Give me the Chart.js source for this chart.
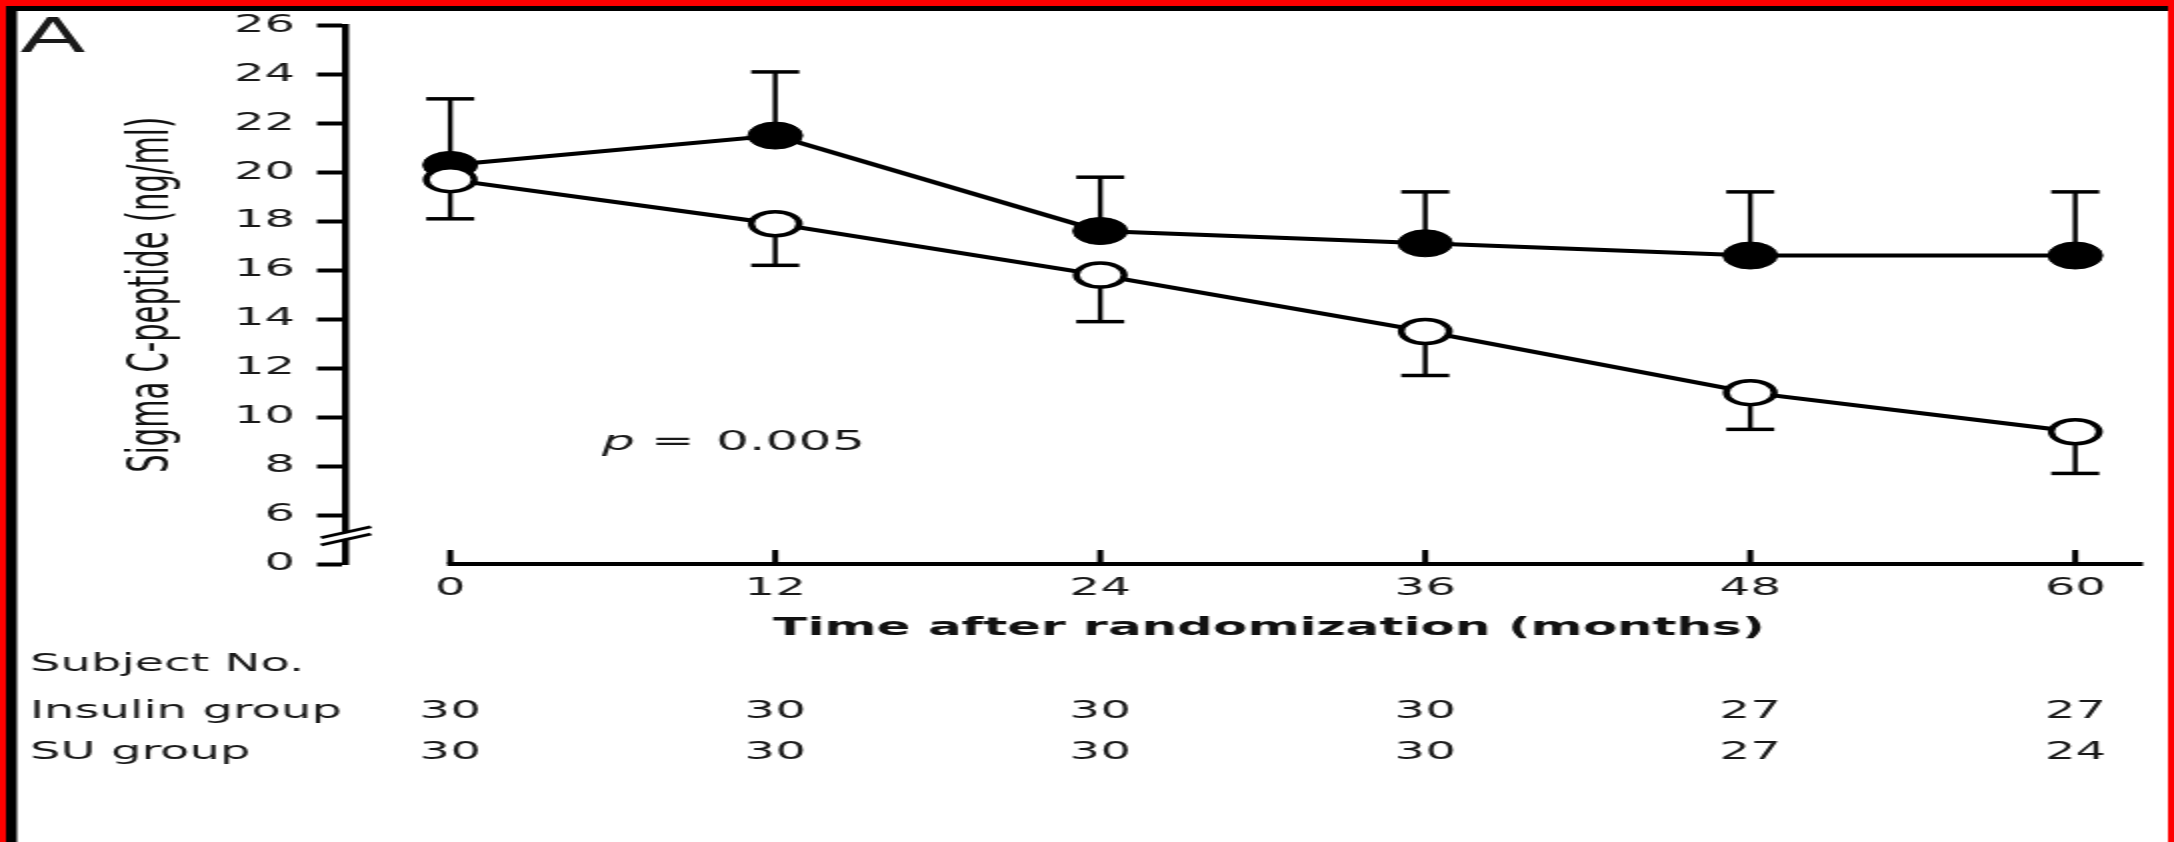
<!DOCTYPE html>
<html>
<head>
<meta charset="utf-8">
<title>Sigma C-peptide</title>
<script src="https://cdn.jsdelivr.net/npm/chart.js@4.4.1/dist/chart.umd.min.js"></script>
<style>
  html, body { margin: 0; padding: 0; background: #fff; overflow: hidden; }
  /* the original figure is stretched 2x horizontally, so draw at half width and stretch */
  #chart { display: block; width: 2174px !important; height: 842px !important; }
</style>
</head>
<body>
<canvas id="chart" width="1087" height="842" style="width:2174px;height:842px"></canvas>
<script>
// months after randomization
var months = [0, 12, 24, 36, 48, 60];

// insulin group (filled circles), mean and upper error bar
var insulinMean = [20.3, 21.5, 17.6, 17.1, 16.6, 16.6];
var insulinUpper = [23.0, 24.1, 19.8, 19.2, 19.2, 19.2];

// SU group (open circles), mean and lower error bar
var suMean = [19.7, 17.9, 15.8, 13.5, 11.0, 9.4];
var suLower = [18.1, 16.2, 13.9, 11.7, 9.5, 7.7];

// y axis is broken: the lowest tick is shown as 0
var yTickValues = [4, 6, 8, 10, 12, 14, 16, 18, 20, 22, 24, 26];
var yTickLabels = ['0', '6', '8', '10', '12', '14', '16', '18', '20', '22', '24', '26'];

// subject numbers
var insulinN = [30, 30, 30, 30, 27, 27];
var suN = [30, 30, 30, 30, 27, 24];

var xTitle = 'Time after randomization (months)';

function toPoints(ys) {
    return months.map(function(m, i) { return {x: m, y: ys[i]}; });
}

var FONT = 'DejaVu Sans';

var errorBars = {
    id: 'errorBars',
    beforeDatasetsDraw: function(chart) {
        var ctx = chart.ctx, xs = chart.scales.x, ys = chart.scales.y;
        ctx.save();
        ctx.strokeStyle = '#000';
        function bar(m, from, to) {
            var px = xs.getPixelForValue(m);
            var pt = ys.getPixelForValue(to);
            ctx.lineWidth = 2.4;
            ctx.beginPath();
            ctx.moveTo(px, ys.getPixelForValue(from));
            ctx.lineTo(px, pt);
            ctx.stroke();
            ctx.lineWidth = 3.5;
            ctx.beginPath();
            ctx.moveTo(px - 12, pt);
            ctx.lineTo(px + 12, pt);
            ctx.stroke();
        }
        months.forEach(function(m, i) {
            bar(m, insulinMean[i], insulinUpper[i]);
            bar(m, suMean[i], suLower[i]);
        });
        ctx.restore();
    }
};

var decorations = {
    id: 'decorations',
    beforeDraw: function(chart) {
        var ctx = chart.ctx, w = chart.width, h = chart.height;
        ctx.save();
        ctx.fillStyle = '#fff';
        ctx.fillRect(0, 0, w, h);
        // frame
        ctx.fillStyle = '#ff0000';
        ctx.fillRect(0, 0, w, 6);
        ctx.fillRect(0, 0, 3, h);
        ctx.fillRect(w - 3, 0, 3, h);
        ctx.fillStyle = '#000';
        ctx.fillRect(3, 6, 5.5, h - 6);
        ctx.fillRect(3, 6, w - 6, 5);
        ctx.restore();
    },
    afterDraw: function(chart) {
        var ctx = chart.ctx, xs = chart.scales.x, ys = chart.scales.y, area = chart.chartArea;
        ctx.save();
        ctx.strokeStyle = '#000';

        // x axis line starts at month 0, ticks point inward
        ctx.lineWidth = 4;
        ctx.beginPath();
        ctx.moveTo(xs.getPixelForValue(0) - 1.5, area.bottom);
        ctx.lineTo(area.right, area.bottom);
        ctx.stroke();
        ctx.lineWidth = 3;
        xs.ticks.forEach(function(t) {
            var px = xs.getPixelForValue(t.value);
            ctx.beginPath();
            ctx.moveTo(px, area.bottom);
            ctx.lineTo(px, area.bottom - 14);
            ctx.stroke();
        });

        // axis break
        var ax = area.left, yb = ys.getPixelForValue(5.15);
        ctx.fillStyle = '#fff';
        ctx.beginPath();
        ctx.moveTo(ax - 4, yb - 2.5 + 2);
        ctx.lineTo(ax + 4, yb - 2.5 - 2);
        ctx.lineTo(ax + 4, yb + 2.5 - 2);
        ctx.lineTo(ax - 4, yb + 2.5 + 2);
        ctx.closePath();
        ctx.fill();
        ctx.lineWidth = 2.8;
        [-3.6, 3.6].forEach(function(d) {
            ctx.beginPath();
            ctx.moveTo(ax - 12.5, yb + d + 5.5);
            ctx.lineTo(ax + 12.5, yb + d - 5.5);
            ctx.stroke();
        });

        // panel letter
        ctx.fillStyle = '#1a1a1a';
        ctx.textBaseline = 'alphabetic';
        ctx.textAlign = 'left';
        ctx.font = '48px "' + FONT + '"';
        ctx.fillText('A', 10, 52);

        // x axis title, centred a little right of the plot centre as in the figure
        ctx.fillStyle = '#111';
        ctx.textAlign = 'center';
        ctx.textBaseline = 'middle';
        ctx.font = 'bold 25px "' + FONT + '"';
        ctx.fillText(xTitle, 634.5, 628);

        // p value
        ctx.fillStyle = '#1a1a1a';
        ctx.textBaseline = 'alphabetic';
        ctx.textAlign = 'left';
        ctx.font = 'italic 26px "' + FONT + '"';
        ctx.fillText('p', 301, 450);
        ctx.font = '26px "' + FONT + '"';
        ctx.textAlign = 'center';
        ctx.fillText('=', 336.5, 450);
        ctx.textAlign = 'left';
        ctx.fillText('0.005', 358, 450);

        // subject numbers table
        ctx.font = '24px "' + FONT + '"';
        ctx.fillText('Subject No.', 15, 671);
        ctx.fillText('Insulin group', 15, 718);
        ctx.fillText('SU group', 15, 759);
        ctx.textAlign = 'center';
        months.forEach(function(m, i) {
            var px = xs.getPixelForValue(m);
            ctx.fillText(String(insulinN[i]), px, 718);
            ctx.fillText(String(suN[i]), px, 759);
        });
        ctx.restore();
    }
};

new Chart(document.getElementById('chart'), {
    type: 'line',
    data: {
        datasets: [{
            label: 'SU group',
            data: toPoints(suMean),
            borderColor: '#000',
            borderWidth: 4,
            pointStyle: 'circle',
            pointRadius: 12,
            pointBorderWidth: 3.5,
            pointBackgroundColor: '#fff',
            pointBorderColor: '#000',
            fill: false,
            tension: 0
        }, {
            label: 'Insulin group',
            data: toPoints(insulinMean),
            borderColor: '#000',
            borderWidth: 4,
            pointStyle: 'circle',
            pointRadius: 13.5,
            pointBorderWidth: 1,
            pointBackgroundColor: '#000',
            pointBorderColor: '#000',
            fill: false,
            tension: 0
        }]
    },
    options: {
        responsive: false,
        animation: false,
        devicePixelRatio: 1,
        layout: { padding: { left: 0, right: 12, top: 18, bottom: 0 } },
        plugins: {
            legend: { display: false },
            tooltip: { enabled: false }
        },
        scales: {
            x: {
                type: 'linear',
                min: -3.85,
                max: 62.5,
                afterBuildTicks: function(scale) {
                    scale.ticks = months.map(function(m) { return {value: m}; });
                },
                afterFit: function(scale) { scale.height = 278; },
                grid: { display: false, drawTicks: false },
                border: { display: false },
                ticks: {
                    padding: 10,
                    autoSkip: false,
                    maxRotation: 0,
                    color: '#1a1a1a',
                    font: { family: FONT, size: 24 }
                },
                title: { display: false, text: xTitle }
            },
            y: {
                min: 4,
                max: 26,
                afterBuildTicks: function(scale) {
                    scale.ticks = yTickValues.map(function(v) { return {value: v}; });
                },
                afterFit: function(scale) { scale.width = 173; },
                grid: {
                    drawOnChartArea: false,
                    drawTicks: true,
                    tickLength: 14.5,
                    tickWidth: 4,
                    tickColor: '#000'
                },
                border: { display: true, color: '#000', width: 3.5 },
                ticks: {
                    padding: 11,
                    color: '#1a1a1a',
                    font: { family: FONT, size: 24 },
                    callback: function(value, index) { return yTickLabels[index]; }
                },
                title: {
                    display: true,
                    text: 'Sigma C-peptide (ng/ml)',
                    color: '#111',
                    font: { family: FONT, size: 29 },
                    padding: { top: 59, bottom: 0 }
                }
            }
        }
    },
    plugins: [errorBars, decorations]
});
</script>
</body>
</html>
